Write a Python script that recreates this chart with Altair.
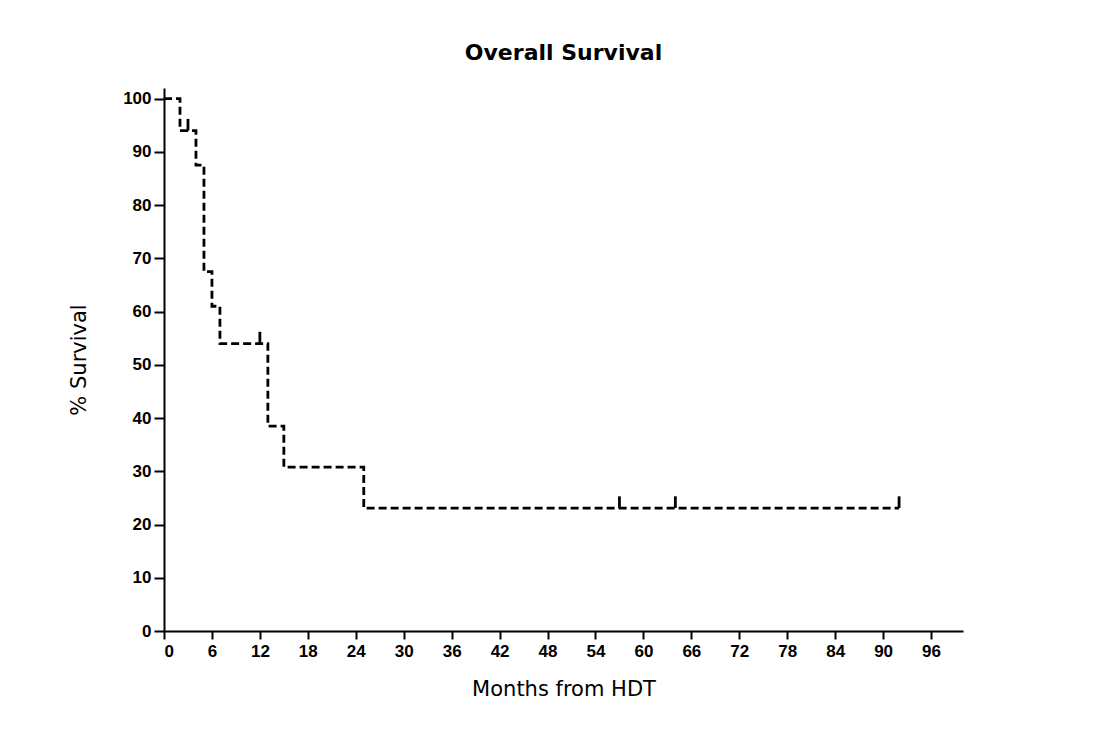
import altair as alt
import pandas as pd

# Kaplan-Meier step points (months, % survival)
step_months = [0, 2, 4, 5, 6, 7, 13, 15, 25, 92]
step_surv = [100, 94, 87.5, 67.5, 61, 54, 38.5, 30.8, 23.1, 23.1]

# censored observations
cens_months = [3, 12, 57, 64, 92]
cens_surv = [94, 54, 23.1, 23.1, 23.1]
cens_tick = 2.2  # height of censor mark in % units

x_ticks = list(range(0, 97, 6))
y_ticks = list(range(0, 101, 10))

steps = pd.DataFrame({"month": step_months, "surv": step_surv})
cens = pd.DataFrame({"month": cens_months, "surv": cens_surv,
                     "top": [v + cens_tick for v in cens_surv]})

xscale = alt.Scale(domain=[0, 100], nice=False, zero=True)
yscale = alt.Scale(domain=[0, 102], nice=False)

xaxis = alt.Axis(values=x_ticks, title="Months from HDT", grid=False,
                 tickSize=8, labelPadding=4, titlePadding=19)
yaxis = alt.Axis(values=y_ticks, title="% Survival", grid=False,
                 tickSize=10, labelPadding=3, titlePadding=33)

line = alt.Chart(steps).mark_line(
    interpolate="step-after", color="black", strokeWidth=2.8,
    strokeDash=[8, 4]
).encode(
    x=alt.X("month:Q", scale=xscale, axis=xaxis),
    y=alt.Y("surv:Q", scale=yscale, axis=yaxis),
)

ticks = alt.Chart(cens).mark_rule(color="black", strokeWidth=2.8).encode(
    x="month:Q",
    y="surv:Q",
    y2="top:Q",
)

chart = alt.layer(line, ticks).properties(
    width=799, height=543,
    background="white",
    title=alt.TitleParams("Overall Survival", fontSize=22, font="DejaVu Sans",
                          fontWeight="bold", anchor="middle", offset=23),
    padding={"left": 156, "top": 80, "right": 120, "bottom": 100},
    autosize=alt.AutoSizeParams(type="none"),
).configure_view(stroke=None).configure_axis(
    domainColor="black", domainWidth=2, tickColor="black", tickWidth=2,
    labelFont="Liberation Sans", labelFontWeight="bold", labelFontSize=17,
    labelColor="black", titleFont="DejaVu Sans", titleFontSize=21,
    titleFontWeight="normal", titleColor="black",
)

chart.save("out.html", embed_options={"renderer": "svg", "actions": False})
